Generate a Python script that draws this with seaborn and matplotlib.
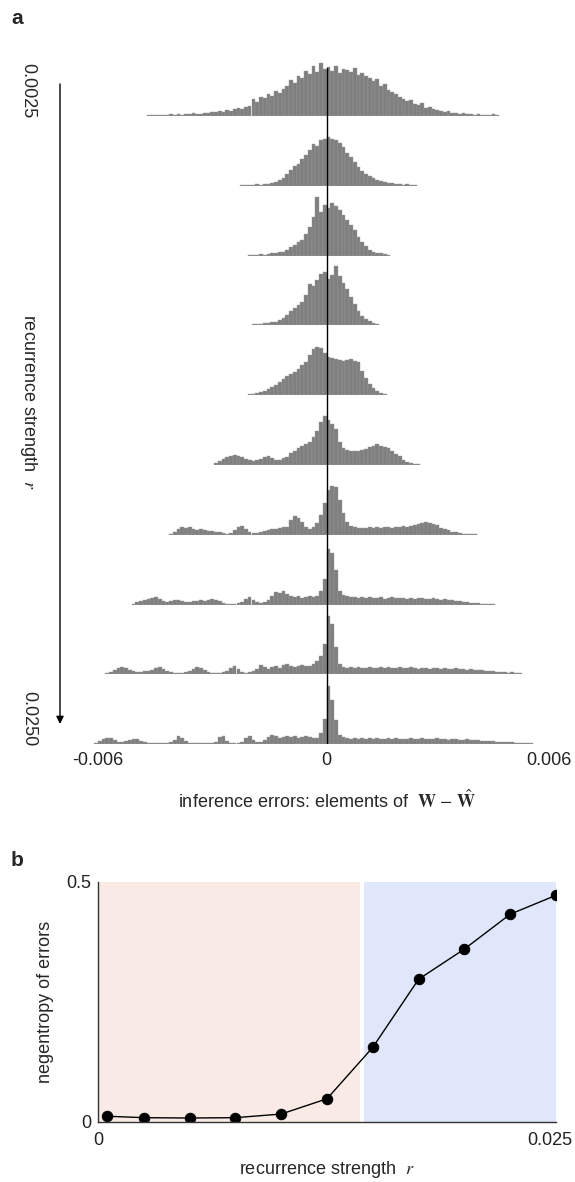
import numpy as np
import matplotlib
matplotlib.use('Agg')
import matplotlib.pyplot as plt
import matplotlib.transforms as mtransforms
import seaborn as sns

# ---- panel a: error histograms, one row per recurrence strength ----
# heights (pixels above each row's baseline), bins of 0.0001
bin_width = 0.0001
row_lo = [-0.0048, -0.0023, -0.0021, -0.0020, -0.0021,
          -0.0030, -0.0042, -0.0052, -0.0059, -0.0062]

h01 = [1, 1, 1, 1, 1, 1, 2, 1,
       2, 1, 2, 2, 3, 2, 2, 3, 3, 4,
       4, 5, 4, 6, 5, 7, 8, 7, 9, 10,
       17, 14, 19, 18, 22, 20, 25, 23, 27, 30,
       36, 33, 40, 38, 45, 42, 50, 44, 53, 47,
       49, 45, 50, 43, 47, 46, 44, 48, 41, 43,
       40, 38, 35, 37, 30, 32, 26, 24, 22, 19,
       17, 15, 16, 12, 11, 13, 8, 9, 7, 6,
       5, 4, 5, 3, 3, 2, 3, 2, 2, 1,
       2, 1, 1, 1, 2, 1]
h02 = [1, 1, 1,
       1, 2, 1, 2, 2, 3, 4, 6, 8, 12,
       16, 20, 22, 27, 31, 36, 42, 40, 46, 47,
       49, 47, 46, 43, 39, 33, 29, 24, 19, 15,
       12, 10, 8, 6, 5, 4, 3, 3, 2, 2,
       1, 2, 1, 1]
h03 = [1,
       1, 1, 2, 1, 2, 3, 3, 4, 4, 6,
       9, 11, 14, 16, 22, 29, 39, 59, 44, 51,
       48, 53, 50, 46, 41, 36, 31, 26, 19, 14,
       10, 6, 4, 3, 3, 2, 1]
h04 = [1, 1, 1, 2, 2, 3, 3, 5, 7, 10,
       14, 17, 20, 23, 30, 41, 39, 45, 51, 53,
       46, 50, 59, 49, 42, 36, 28, 21, 14, 9,
       6, 4, 2, 1]
h05 = [1,
       1, 2, 3, 4, 6, 8, 10, 13, 16, 19,
       21, 23, 26, 30, 33, 40, 46, 48, 47, 42,
       38, 37, 36, 35, 34, 35, 36, 34, 33, 24,
       17, 11, 7, 4, 2, 1]
h06 = [2, 4, 6, 8, 9, 10, 9, 8, 6, 5,
       4, 5, 6, 8, 9, 7, 5, 5, 7, 8,
       12, 14, 17, 19, 21, 23, 28, 34, 43, 49,
       45, 41, 36, 23, 17, 15, 14, 14, 14, 15,
       16, 18, 19, 21, 19, 18, 17, 14, 11, 9,
       5, 3, 2, 1, 1]
h07 = [1, 3,
       6, 8, 7, 8, 6, 5, 6, 5, 4, 4,
       3, 3, 2, 1, 2, 5, 8, 9, 6, 3,
       2, 2, 3, 4, 5, 6, 6, 7, 8, 8,
       15, 19, 17, 13, 8, 6, 8, 12, 20, 32,
       45, 49, 48, 35, 22, 13, 9, 8, 7, 7,
       7, 8, 7, 8, 7, 8, 8, 7, 8, 8,
       9, 8, 9, 10, 11, 12, 13, 12, 11, 10,
       7, 6, 5, 3, 3, 2, 1, 1, 1, 1]
h08 = [1, 3,
       4, 5, 6, 7, 8, 6, 4, 3, 4, 5,
       5, 4, 3, 3, 4, 4, 5, 4, 5, 6,
       5, 4, 2, 1, 1, 1, 2, 3, 6, 8,
       5, 3, 2, 3, 5, 9, 13, 12, 14, 11,
       9, 8, 9, 7, 8, 9, 8, 9, 14, 26,
       56, 52, 35, 14, 10, 9, 8, 8, 7, 8,
       7, 8, 7, 7, 8, 6, 7, 8, 7, 7,
       7, 6, 7, 6, 7, 7, 6, 6, 7, 6,
       5, 6, 5, 5, 4, 4, 3, 3, 2, 2,
       2, 1, 1, 1, 1]
h09 = [1, 2, 4, 6, 7, 6, 4, 3, 2,
       2, 3, 3, 4, 6, 7, 5, 3, 2, 1,
       1, 1, 2, 3, 5, 7, 6, 4, 2, 1,
       1, 1, 2, 3, 6, 8, 5, 2, 1, 2,
       3, 5, 9, 7, 5, 7, 8, 6, 9, 10,
       8, 7, 8, 9, 8, 8, 10, 13, 18, 30,
       58, 50, 27, 10, 7, 6, 7, 6, 7, 6,
       6, 7, 6, 6, 7, 6, 7, 6, 6, 7,
       6, 6, 7, 6, 5, 6, 6, 5, 6, 6,
       5, 6, 5, 5, 6, 5, 5, 4, 5, 4,
       4, 4, 3, 3, 3, 2, 2, 2, 1, 2,
       1, 1]
h10 = [1, 3,
       5, 6, 6, 4, 2, 2, 3, 4, 5, 5,
       3, 2, 1, 1, 1, 1, 1, 1, 2, 4,
       8, 6, 3, 1, 1, 1, 1, 1, 1, 1,
       2, 7, 8, 3, 1, 1, 1, 2, 6, 8,
       4, 2, 2, 4, 7, 9, 8, 6, 7, 8,
       7, 8, 6, 7, 8, 7, 6, 6, 11, 25,
       58, 44, 24, 9, 7, 6, 5, 6, 5, 6,
       5, 6, 5, 6, 5, 5, 6, 5, 6, 5,
       5, 5, 6, 5, 5, 6, 5, 5, 5, 6,
       5, 5, 4, 5, 5, 4, 4, 5, 4, 4,
       4, 3, 3, 3, 3, 2, 2, 2, 2, 2,
       1, 1, 1, 1, 1]
hists = [h01, h02, h03, h04, h05, h06, h07, h08, h09, h10]
err_ticks = [-0.006, 0, 0.006]
err_ticklabels = ['-0.006', '0', '0.006']

# ---- panel b: negentropy vs recurrence strength ----
r_vals = [0.0005, 0.0025, 0.005, 0.0075, 0.01, 0.0125,
          0.015, 0.0175, 0.02, 0.0225, 0.025]
negentropy = [0.012, 0.009, 0.0083, 0.009, 0.0166, 0.0484,
              0.1556, 0.2974, 0.3603, 0.4329, 0.4723]
regime_split = [0.0143, 0.0145]

sns.set_theme(style='white')
plt.rcParams['font.family'] = ['Liberation Sans', 'DejaVu Sans']
plt.rcParams['mathtext.fontset'] = 'stix'
plt.rcParams['font.size'] = 13

W, H = 575, 1182
fig = plt.figure(figsize=(W / 100, H / 100), dpi=100)


def box(x0, y0, x1, y1):
    # pixel box (top-left origin) -> figure fraction
    return [x0 / W, 1 - y1 / H, (x1 - x0) / W, (y1 - y0) / H]


gray = '#7f7f7f'
xlim = (-0.0064, 0.0064)
left_px, right_px = 86.5, 566.5

for i, (lo, h) in enumerate(zip(row_lo, hists)):
    base = 116 + 69.8 * i
    ax = fig.add_axes(box(left_px, base - 70, right_px, base))
    centers = lo + bin_width * (np.arange(len(h)) + 0.5)
    sns.histplot(x=centers, weights=h, binwidth=bin_width,
                 binrange=(lo, lo + bin_width * len(h)), element='bars',
                 fill=True, color=gray, alpha=1, linewidth=0.3,
                 edgecolor='#9a9a9a', ax=ax)
    ax.set_xlim(xlim)
    ax.set_ylim(0, 70)
    ax.axis('off')

# frame on top: zero line, ticks, arrow
fr = fig.add_axes(box(left_px, 46, right_px, 744))
fr.patch.set_alpha(0)
fr.set_xlim(xlim)
fr.set_ylim(0, 1)
for s in fr.spines.values():
    s.set_visible(False)
fr.axvline(0, ymin=0, ymax=(744 - 68) / (744 - 46), color='black', lw=1)
fr.set_yticks([])
fr.set_xticks(err_ticks)
fr.set_xticklabels(err_ticklabels)
fr.tick_params(axis='x', length=0, pad=6, labelsize=13, colors='#222222')
# nudge outer labels a little, as in the reference
for lab, dx in zip(fr.get_xticklabels(), [-4, 0, -3]):
    lab.set_transform(lab.get_transform() +
                      mtransforms.ScaledTranslation(dx / 100, 0, fig.dpi_scale_trans))
fr.annotate('', xy=(60, H - 724), xytext=(60, H - 84),
            xycoords='figure pixels', textcoords='figure pixels',
            annotation_clip=False,
            arrowprops=dict(arrowstyle='-|>', color='black', lw=1,
                            mutation_scale=11, shrinkA=0, shrinkB=0))

fig.text(28 / W, 1 - 91 / H, '0.0025', rotation=-90, ha='center', va='center', fontsize=13)
fig.text(29 / W, 1 - 719 / H, '0.0250', rotation=-90, ha='center', va='center', fontsize=13)
fig.text(28 / W, 1 - 402 / H, 'recurrence strength  $r$', rotation=-90,
         ha='center', va='center', fontsize=13)
fig.text(327 / W, 1 - 801 / H,
         r'inference errors: elements of  $\mathbf{W}\,-\,\hat{\mathbf{W}}$',
         ha='center', va='center', fontsize=13)

fig.text(11 / W, 1 - 19 / H, 'a', fontsize=15, fontweight='bold', va='center')
fig.text(11 / W, 1 - 860 / H, 'b', fontsize=15, fontweight='bold', va='center')

# ---- panel b ----
axb = fig.add_axes(box(98, 882, 556, 1122))
axb.axvspan(0, regime_split[0], color='#f9eae6', lw=0)
axb.axvspan(regime_split[1], 0.025, color='#e1e7fb', lw=0)
sns.lineplot(x=r_vals, y=negentropy, marker='o', markersize=7.5, color='black',
             markeredgecolor='black', lw=1, ax=axb)
axb.set_xlim(0, 0.025)
axb.set_ylim(0, 0.5)
axb.set_xticks([0, 0.025])
axb.set_xticklabels(['0', '0.025'])
axb.set_yticks([0, 0.5])
axb.set_yticklabels(['0', '0.5'])
axb.spines['top'].set_visible(False)
axb.spines['right'].set_visible(False)
for s in ['left', 'bottom']:
    axb.spines[s].set_color('#333333')
    axb.spines[s].set_linewidth(1)
axb.tick_params(direction='in', length=4, width=1, colors='#333333',
                labelsize=13, labelcolor='#222222')
axb.tick_params(axis='x', pad=7)
axb.tick_params(axis='y', pad=5)
# keep the right-hand tick label inside the figure
last = axb.get_xticklabels()[-1]
last.set_transform(last.get_transform() +
                   mtransforms.ScaledTranslation(-6 / 100, 0, fig.dpi_scale_trans))
axb.set_ylabel('negentropy of errors', fontsize=13)
axb.set_xlabel('recurrence strength  $r$', fontsize=13)
axb.yaxis.set_label_coords(-(98 - 54) / 458, 0.5)
axb.xaxis.set_label_coords(0.5, -(1159 - 1122) / 240)

fig.savefig('out.png', dpi=100)
